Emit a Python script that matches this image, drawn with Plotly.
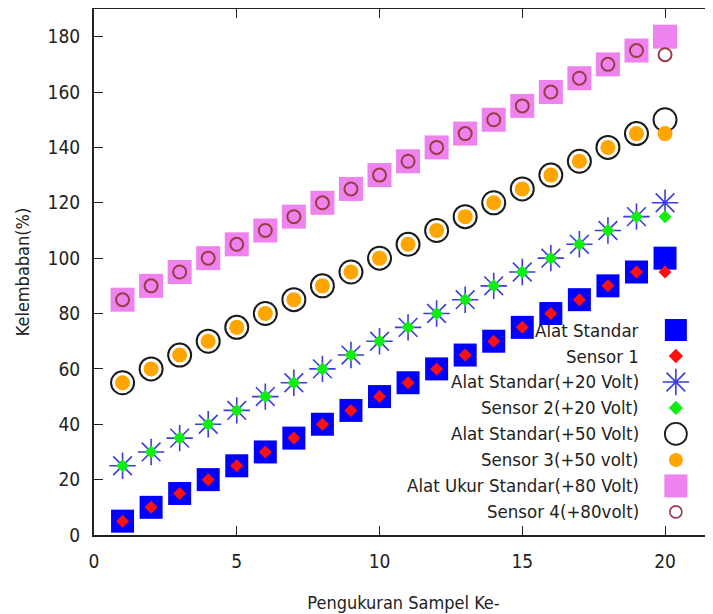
import plotly.graph_objects as go

samples = list(range(1, 21))
alat_standar = [5, 10, 15, 20, 25, 30, 35, 40, 45, 50, 55, 60, 65, 70, 75, 80, 85, 90, 95, 100]
sensor_1 = [5, 10, 15, 20, 25, 30, 35, 40, 45, 50, 55, 60, 65, 70, 75, 80, 85, 90, 95, 95]
alat_standar_20 = [25, 30, 35, 40, 45, 50, 55, 60, 65, 70, 75, 80, 85, 90, 95, 100, 105, 110, 115, 120]
sensor_2 = [25, 30, 35, 40, 45, 50, 55, 60, 65, 70, 75, 80, 85, 90, 95, 100, 105, 110, 115, 115]
alat_standar_50 = [55, 60, 65, 70, 75, 80, 85, 90, 95, 100, 105, 110, 115, 120, 125, 130, 135, 140, 145, 150]
sensor_3 = [55, 60, 65, 70, 75, 80, 85, 90, 95, 100, 105, 110, 115, 120, 125, 130, 135, 140, 145, 145]
alat_standar_80 = [85, 90, 95, 100, 105, 110, 115, 120, 125, 130, 135, 140, 145, 150, 155, 160, 165, 170, 175, 180]
sensor_4 = [85, 90, 95, 100, 105, 110, 115, 120, 125, 130, 135, 140, 145, 150, 155, 160, 165, 170, 175, 173.5]
y_ticks = list(range(0, 181, 20))
x_ticks = [0, 5, 10, 15, 20]

names = ["Alat Standar", "Sensor 1", "Alat Standar(+20 Volt)", "Sensor 2(+20 Volt)",
         "Alat Standar(+50 Volt)", "Sensor 3(+50 volt)", "Alat Ukur Standar(+80 Volt)", "Sensor 4(+80volt)"]
series = [alat_standar, sensor_1, alat_standar_20, sensor_2, alat_standar_50, sensor_3, alat_standar_80, sensor_4]

markers = [
    dict(symbol="square", size=23, color="#0000ff"),
    dict(symbol="diamond", size=10, color="#ff1010"),
    dict(symbol="asterisk-open", size=22, color="#3c3cdc", line=dict(color="#3c3cdc", width=1.6)),
    dict(symbol="diamond", size=10, color="#10ee10"),
    dict(symbol="circle-open", size=23, color="#1a1a1a", line=dict(color="#1a1a1a", width=2)),
    dict(symbol="circle", size=15, color="#ffa500"),
    dict(symbol="square", size=24, color="#ee82ee"),
    dict(symbol="circle-open", size=13, color="#9a3c44", line=dict(color="#9a3c44", width=2)),
]
legend_markers = [
    dict(symbol="square", size=22, color="#0000ff"),
    dict(symbol="diamond", size=11, color="#ff1010"),
    dict(symbol="asterisk-open", size=22, color="#3c3cdc", line=dict(color="#3c3cdc", width=1.6)),
    dict(symbol="diamond", size=11, color="#10ee10"),
    dict(symbol="circle-open", size=22, color="#1a1a1a", line=dict(color="#1a1a1a", width=1.8)),
    dict(symbol="circle", size=14, color="#ffa500"),
    dict(symbol="square", size=23, color="#ee82ee"),
    dict(symbol="circle-open", size=12, color="#9a3c44", line=dict(color="#9a3c44", width=1.6)),
]

FONT = "DejaVu Sans Condensed, DejaVu Sans, sans-serif"

fig = go.Figure()
for name, ys, mk in zip(names, series, markers):
    fig.add_trace(go.Scatter(x=samples, y=ys, mode="markers", name=name, marker=mk,
                             showlegend=False, cliponaxis=False))

# custom gnuplot-style key: right-aligned text, symbol on the right
key_x = 0.940
text_x = 0.884
row_top = 0.3897
row_step = 0.0494
for i, (name, mk) in enumerate(zip(names, legend_markers)):
    yy = row_top - i * row_step
    fig.add_trace(go.Scatter(x=[key_x], y=[yy], mode="markers", marker=mk,
                             xaxis="x2", yaxis="y2", showlegend=False, hoverinfo="skip"))
    fig.add_annotation(x=text_x, y=yy, xref="paper", yref="paper", text=name,
                       showarrow=False, xanchor="right", yanchor="middle",
                       font=dict(family=FONT, size=18.5, color="#222"))

fig.update_layout(
    width=705, height=606,
    margin=dict(l=86, r=0, t=1, b=79, autoexpand=False),
    plot_bgcolor="white", paper_bgcolor="white",
    font=dict(family=FONT, size=19, color="#222"),
    showlegend=False,
    xaxis=dict(range=[0, 21.68], tickvals=x_ticks, ticks="inside", ticklen=9,
               tickcolor="#222", showline=True, linecolor="#222", linewidth=2, mirror="ticks",
               showgrid=False, zeroline=False, ticklabelstandoff=8, automargin=False,
               title=dict(text="Pengukuran Sampel Ke-", font=dict(size=18), standoff=26)),
    yaxis=dict(range=[0, 190], tickvals=y_ticks, ticks="inside", ticklen=9,
               tickcolor="#222", showline=True, linecolor="#222", linewidth=2, mirror=False,
               showgrid=False, zeroline=False, ticklabelstandoff=8, automargin=False,
               title=dict(text="Kelembaban(%)", font=dict(size=18), standoff=13)),
    yaxis3=dict(range=[0, 190], tickvals=y_ticks, ticks="inside", ticklen=8,
                tickcolor="#555", tickwidth=1, side="right", overlaying="y", showline=False,
                showticklabels=False, showgrid=False, zeroline=False, automargin=False,
                fixedrange=True),
    xaxis2=dict(range=[0, 1], overlaying="x", visible=False, fixedrange=True),
    yaxis2=dict(range=[0, 1], overlaying="y", visible=False, fixedrange=True),
)
# invisible trace to activate the right-side tick axis
fig.add_trace(go.Scatter(x=[None], y=[None], yaxis="y3", showlegend=False, hoverinfo="skip"))

fig.write_html("out.html")
